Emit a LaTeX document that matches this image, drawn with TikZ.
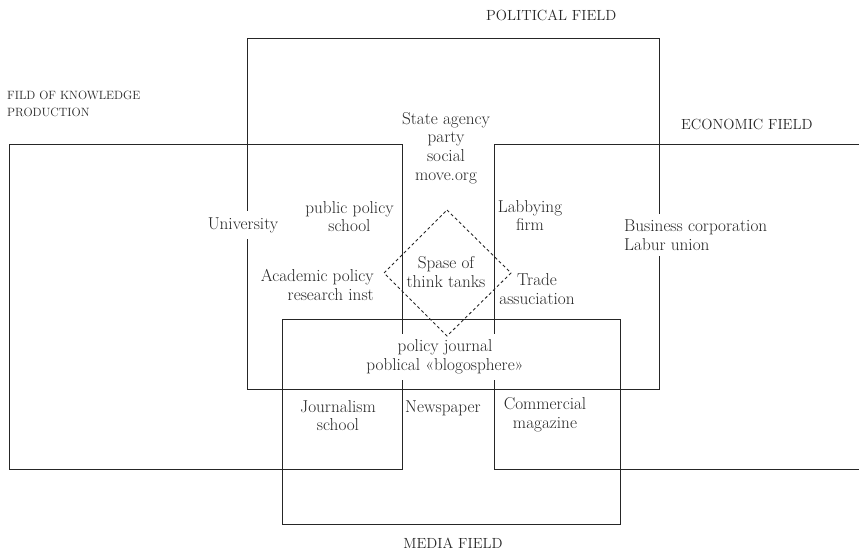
\documentclass[tikz,border=0pt]{standalone}
\usepackage{fontspec}
\newcommand\txtbody{\fontsize{17.2}{18.7}\selectfont}
\newcommand\txtlab{\fontsize{14.7}{17}\selectfont}
\newcommand\txtsmall{\fontsize{12}{16.5}\selectfont}
\definecolor{ink}{HTML}{262626}
\tikzset{
  field/.style={draw=ink, line width=0.9pt},
  lbl/.style={text=ink, inner sep=0pt, align=center, font=\txtbody},
  cover/.style={lbl, fill=white, inner xsep=2pt, inner ysep=6pt},
  fieldname/.style={text=ink, inner sep=0pt, font=\txtlab},
  tank/.style={draw=ink, line width=0.9pt, dash pattern=on 3pt off 2.6pt}
}
\begin{document}
\begin{tikzpicture}[x=1pt,y=-1pt]
\useasboundingbox (0,0) rectangle (859,553);
% fields
\draw[field] (247,38) rectangle (659,389);
\draw[field] (9,144) rectangle (402,469);
\draw[field] (859,144) -- (494,144) -- (494,469) -- (859,469);
\draw[field] (282,319) rectangle (620,524);
% field names
\node[fieldname, anchor=west] (pol) at (486,15) {POLITICAL FIELD};
\node[fieldname, anchor=west] (eco) at (681,124) {ECONOMIC FIELD};
\node[fieldname] (med) at (453,543) {MEDIA FIELD};
\node[text=ink, inner sep=0pt, font=\txtsmall, align=left, anchor=north west] (kno) at (7,91) {FILD OF KNOWLEDGE\\PRODUCTION};
% actors
\node[lbl] (state) at (446,148) {State agency\\party\\social\\move.org};
\node[lbl] (pps) at (349.5,216.5) {public policy\\school};
\node[cover] (uni) at (243,225) {University};
\node[lbl] (lob) at (530,215.5) {Labbying\\firm};
\node[cover, align=left, anchor=west] (bus) at (622,235) {Business corporation\\Labur union};
\node[lbl, align=right, anchor=east] (acad) at (374,285) {Academic policy\\research inst};
\node[lbl] (trade) at (537,289) {Trade\\assuciation};
\node[lbl] (tank) at (446,272) {Spase of\\think tanks};
\node[cover] (jour) at (445,357) {policy journal\\poblical «blogosphere»};
\node[lbl] (js) at (338,415.5) {Journalism\\school};
\node[lbl] (news) at (443,408) {Newspaper};
\node[lbl] (mag) at (545,414.5) {Commercial\\magazine};
% space of think tanks
\coordinate (dt) at (447,210);
\coordinate (dr) at (511,273);
\coordinate (db) at (447,336);
\coordinate (dl) at (384,273);
\draw[tank] (dt) -- (dr) -- (db) -- (dl) -- cycle;
\end{tikzpicture}
\end{document}
